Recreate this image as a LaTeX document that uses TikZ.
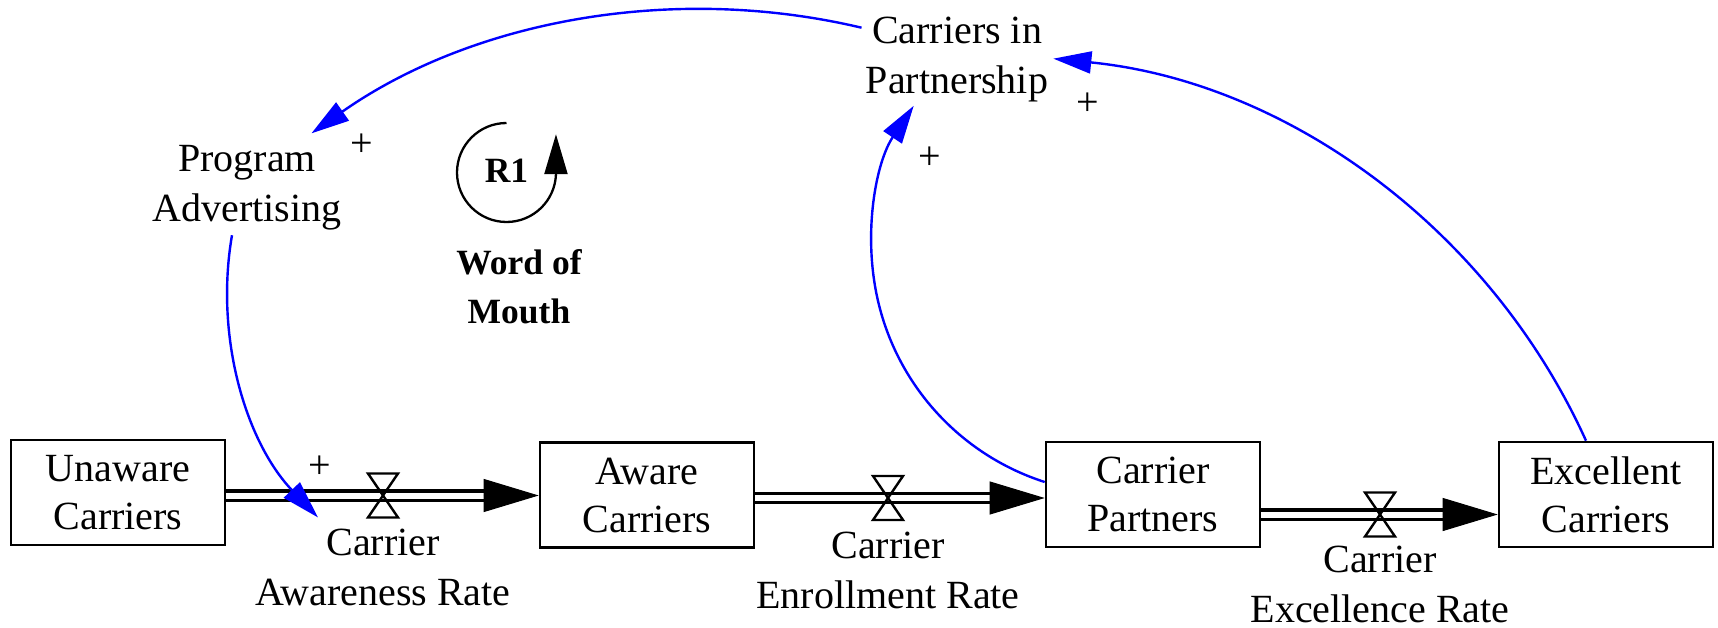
\documentclass[tikz,border=0pt]{standalone}
\usepackage{fontspec}
\setmainfont{Liberation Serif}
\usetikzlibrary{arrows.meta}
\newcommand\stockfont{\fontsize{40}{48}\selectfont}
\newcommand\namefont{\fontsize{40}{50}\selectfont}
\newcommand\loopfont{\fontsize{35.5}{49}\selectfont\bfseries}

\begin{document}
\begin{tikzpicture}[x=1pt,y=1pt,
  stock/.style={draw, line width=2.6pt, minimum width=214pt, minimum height=105pt,
    inner sep=0pt, align=center, font=\stockfont},
  varname/.style={inner sep=0pt, align=center, font=\namefont},
  polarity/.style={inner sep=0pt, font=\namefont},
  pipe/.style={double, line width=3.2pt, double distance=6pt},
  flowhead/.style={-{Triangle[length=55pt,width=33pt]}, line width=1pt},
  link/.style={blue, line width=2.4pt, -{Triangle[length=38pt,width=22pt]}},
  valve/.pic={\draw[line width=2.4pt, line join=miter]
    (-15,22) -- (15,22) -- (-15,-22) -- (15,-22) -- cycle;}
]
\useasboundingbox (0,0) rectangle (1718,-628);

% stocks
\node[stock] (ua) at (118,-492.5)  {Unaware\\Carriers};
\node[stock] (aw) at (647,-495)    {Aware\\Carriers};
\node[stock] (cp) at (1153,-494.5) {Carrier\\Partners};
\node[stock] (ec) at (1606,-494.5) {Excellent\\Carriers};

% auxiliary variables
\node[varname] (pa)  at (247,-187.6) {Program\\Advertising};
\node[varname] (cip) at (957,-59.4)  {Carriers in\\Partnership};

% flow valves
\coordinate (v1) at (383,-495.5);
\coordinate (v2) at (888,-498);
\coordinate (v3) at (1380,-514.5);

% flow pipes
\coordinate (f1end) at (aw.west |- v1);
\coordinate (f2end) at (cp.west |- v2);
\coordinate (f3end) at (ec.west |- v3);
\draw[pipe] (ua.east |- v1) -- ([xshift=-50pt]f1end);
\draw[pipe] (aw.east |- v2) -- ([xshift=-50pt]f2end);
\draw[pipe] (cp.east |- v3) -- ([xshift=-50pt]f3end);
\draw[flowhead] ([xshift=-55pt]f1end) -- (f1end);
\draw[flowhead] ([xshift=-55pt]f2end) -- (f2end);
\draw[flowhead] ([xshift=-55pt]f3end) -- (f3end);
\pic at (v1) {valve};
\pic at (v2) {valve};
\pic at (v3) {valve};

% flow names
\node[varname] (l1) at (383,-567.5)  {Carrier\\Awareness Rate};
\node[varname] (l2) at (888,-570.5)  {Carrier\\Enrollment Rate};
\node[varname] (l3) at (1380,-584)   {Carrier\\Excellence Rate};

% causal links (circular arcs)
\draw[link] ([xshift=-4.2pt,yshift=31.7pt]cip.west)
  arc[start angle=76.67, end angle=125.07, radius=683.2];
\draw[link] ([xshift=-15pt,yshift=-5pt]pa.south)
  arc[start angle=170.2, end angle=223.7, radius=327.8];
\draw[link] ([yshift=12.5pt]cp.west)
  arc[start angle=252.2, end angle=146.2, radius=249.4];
\draw[link] ([xshift=-20pt]ec.north)
  arc[start angle=24.4, end angle=84.3, radius=656.5];

% link polarities
\node[polarity] (s1) at (361.7,-145)  {+};
\node[polarity] (s2) at (319.3,-466.7) {+};
\node[polarity] (s3) at (929.3,-158.3) {+};
\node[polarity] (s4) at (1087.3,-104)  {+};

% reinforcing loop marker
\coordinate (loopc) at (506.5,-172.5);
\node[font=\loopfont, inner sep=0pt] (r1) at (506.5,-171) {R1};
\draw[line width=2.3pt, -{Triangle[length=40pt,width=23pt]}]
  (loopc) ++(90:49.5) arc[start angle=90, end angle=358, radius=49.5] -- ++(0,40);
\node[font=\loopfont, align=center, inner sep=0pt] (wom) at (519,-287) {Word of\\Mouth};
\end{tikzpicture}
\end{document}
